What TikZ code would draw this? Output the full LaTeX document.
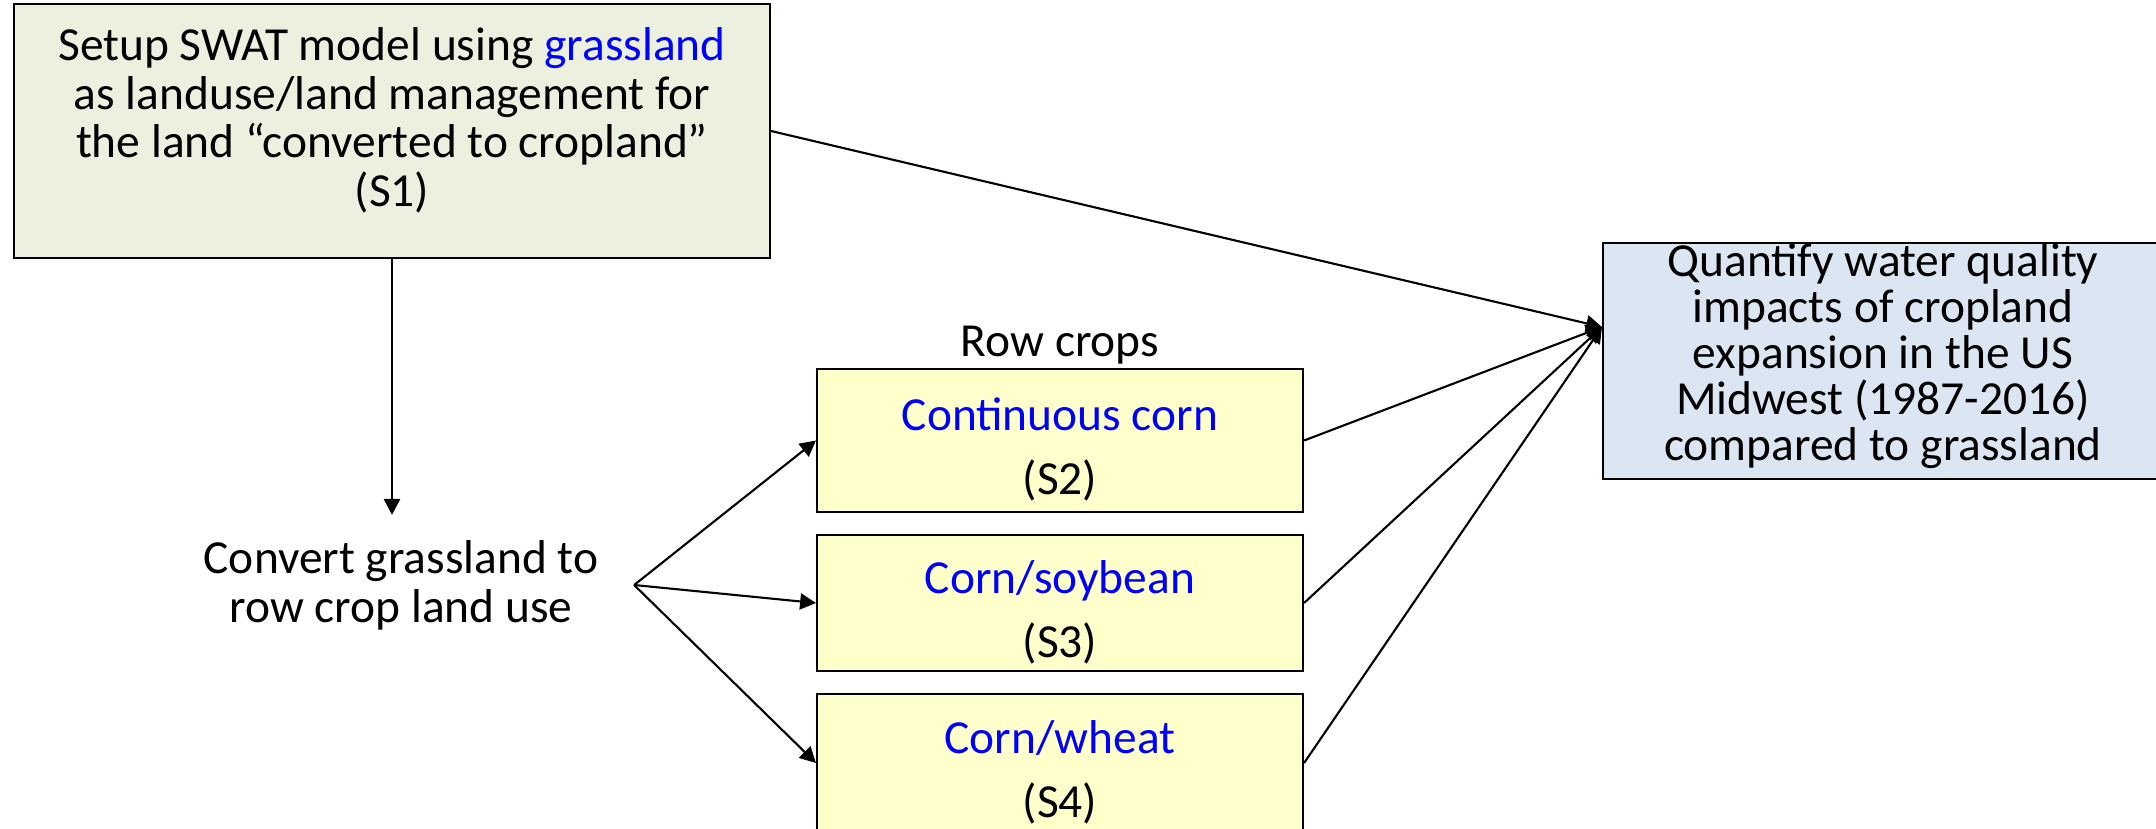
\documentclass[tikz,border=0pt]{standalone}
\usepackage{fontspec}
\setmainfont{Carlito}
\usetikzlibrary{arrows.meta,positioning}
\definecolor{setupgreen}{HTML}{EBF1DE}
\definecolor{cropyellow}{HTML}{FFFFCC}
\definecolor{goalblue}{HTML}{DCE6F2}
% struts to nudge the text block up or down inside a box
\newcommand{\toppad}{\rule{0pt}{14.5pt}}
\newcommand{\botpad}[1]{\rule[-#1]{0pt}{0pt}}

\begin{document}
\begin{tikzpicture}[
    box/.style={draw, line width=0.6pt, rectangle, align=center, inner sep=0pt},
    crop/.style={box, fill=cropyellow, minimum width=4.86cm,
                 font=\fontsize{13.5}{18.3}\selectfont},
    arr/.style={-{Triangle[length=4.5pt, width=4.6pt]}, line width=0.6pt},
    font=\fontsize{13.5}{13.8}\selectfont]
    \useasboundingbox[fill=white] (0,0) rectangle (21.56,-8.28);
    \node[box, fill=setupgreen, minimum width=7.56cm, minimum height=2.54cm] (s1) at (3.92,-1.31)
        {Setup SWAT model using \textcolor{blue}{grassland}\\as landuse/land management for\\the land “converted to cropland”\\(S1)\botpad{0.28cm}};
    \node[align=center, inner xsep=10pt, inner ysep=7pt, font=\fontsize{13.5}{14}\selectfont] (conv) at (4.01,-5.85)
        {Convert grassland to\\row crop land use};
    \node[crop, minimum height=1.43cm] (s2) at (10.60,-4.405) {\toppad\textcolor{blue}{Continuous corn}\\(S2)};
    \node[crop, minimum height=1.36cm] (s3) at (10.60,-6.03)  {\toppad\textcolor{blue}{Corn/soybean}\\(S3)};
    \node[crop, minimum height=1.38cm] (s4) at (10.60,-7.63)  {\toppad\textcolor{blue}{Corn/wheat}\\(S4)};
    \node[above=0pt of s2, inner sep=1pt] (rowlbl) {Row crops};
    \node[box, fill=goalblue, minimum width=5.6cm, minimum height=2.36cm,
          font=\fontsize{13.5}{13.1}\selectfont] (quant) at (18.83,-3.61)
        {Quantify water quality\\impacts of cropland\\expansion in the US\\Midwest (1987-2016)\\compared to grassland\botpad{0.18cm}};
    \coordinate (hub) at ([yshift=3.4mm]quant.west);
    \draw[arr] (s1.south) -- (s1.south |- conv.north);
    \foreach \b in {s2, s3, s4}
        \draw[arr] (conv.east) -- (\b.west);
    \foreach \a in {s1, s2, s3, s4}
        \draw[arr] (\a.east) -- (hub);
\end{tikzpicture}
\end{document}
